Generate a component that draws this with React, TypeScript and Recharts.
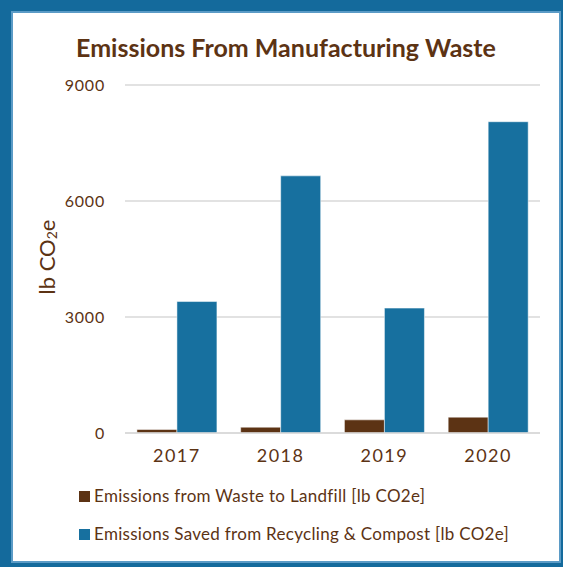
import { BarChart, Bar, XAxis, YAxis, CartesianGrid, Label } from 'recharts';

const years = ['2017', '2018', '2019', '2020'];
const landfill = [90, 150, 340, 410];
const saved = [3400, 6650, 3230, 8050];
const yTicks = [0, 3000, 6000, 9000];

const seriesNames = [
  'Emissions from Waste to Landfill [lb CO2e]',
  'Emissions Saved from Recycling & Compost [lb CO2e]',
];
const seriesColors = ['#5c3314', '#17709f'];

const data = years.map((year, i) => ({ year, landfill: landfill[i], saved: saved[i] }));

const FONT = 'Lato, "Noto Sans", sans-serif';
const TEXT = '#5c3314';

const YLabel = ({ viewBox }: any) => {
  const cx = 46;
  const cy = viewBox ? viewBox.y + viewBox.height / 2 - 2 : 258;
  return (
    <text
      x={cx}
      y={cy}
      transform={`rotate(-90 ${cx} ${cy})`}
      textAnchor="middle"
      dominantBaseline="central"
      fill={TEXT}
      fontSize={22}
      fontFamily={FONT}
    >
      lb CO<tspan fontSize={14} dy={5}>2</tspan>
      <tspan dy={-5}>e</tspan>
    </text>
  );
};

export default function App() {
  return (
    <div style={{ position: 'fixed', left: 0, top: 0, width: 563, height: 567, background: '#146a9c', fontFamily: FONT }}>
      <div
        style={{
          position: 'absolute',
          left: 11,
          top: 11,
          width: 546,
          height: 548,
          background: '#fff',
          border: '2px solid #5b9bc6',
        }}
      />
      <div
        style={{
          position: 'absolute',
          left: 0,
          width: 572,
          top: 29,
          textAlign: 'center',
          fontSize: 25,
          fontWeight: 700,
          color: TEXT,
          lineHeight: '36px',
        }}
      >
        Emissions From Manufacturing Waste
      </div>
      <div style={{ position: 'absolute', left: 0, top: 0 }}>
        <BarChart
          width={563}
          height={567}
          data={data}
          margin={{ top: 85, right: 23, left: 65, bottom: 104 }}
          barCategoryGap="11.5%"
          barGap={0}
        >
          <CartesianGrid vertical={false} stroke="#d9d9d9" strokeWidth={1.5} />
          <XAxis
            dataKey="year"
            axisLine={{ stroke: '#d9d9d9', strokeWidth: 1.5 }}
            tickLine={false}
            height={30}
            tick={{ fill: TEXT, fontSize: 18, fontFamily: FONT, letterSpacing: 1.5 }}
            tickMargin={10}
          />
          <YAxis
            width={60}
            domain={[0, 9000]}
            ticks={yTicks}
            axisLine={false}
            tickLine={false}
            tickMargin={14}
            tick={{ fill: TEXT, fontSize: 16, fontFamily: FONT, letterSpacing: 0.8 }}
          >
            <Label content={<YLabel />} />
          </YAxis>
          <Bar dataKey="landfill" fill={seriesColors[0]} stroke="#fff" strokeWidth={0.5} isAnimationActive={false} />
          <Bar dataKey="saved" fill={seriesColors[1]} stroke="#fff" strokeWidth={0.5} isAnimationActive={false} />
        </BarChart>
      </div>
      {seriesNames.map((name, i) => (
        <div
          key={name}
          style={{
            position: 'absolute',
            left: 79,
            top: 486 + i * 38,
            display: 'flex',
            alignItems: 'center',
            color: TEXT,
            fontSize: 17,
            letterSpacing: 0.3,
            lineHeight: '20px',
          }}
        >
          <span style={{ display: 'inline-block', width: 11, height: 11, background: seriesColors[i], marginRight: 4 }} />
          {name}
        </div>
      ))}
    </div>
  );
}
